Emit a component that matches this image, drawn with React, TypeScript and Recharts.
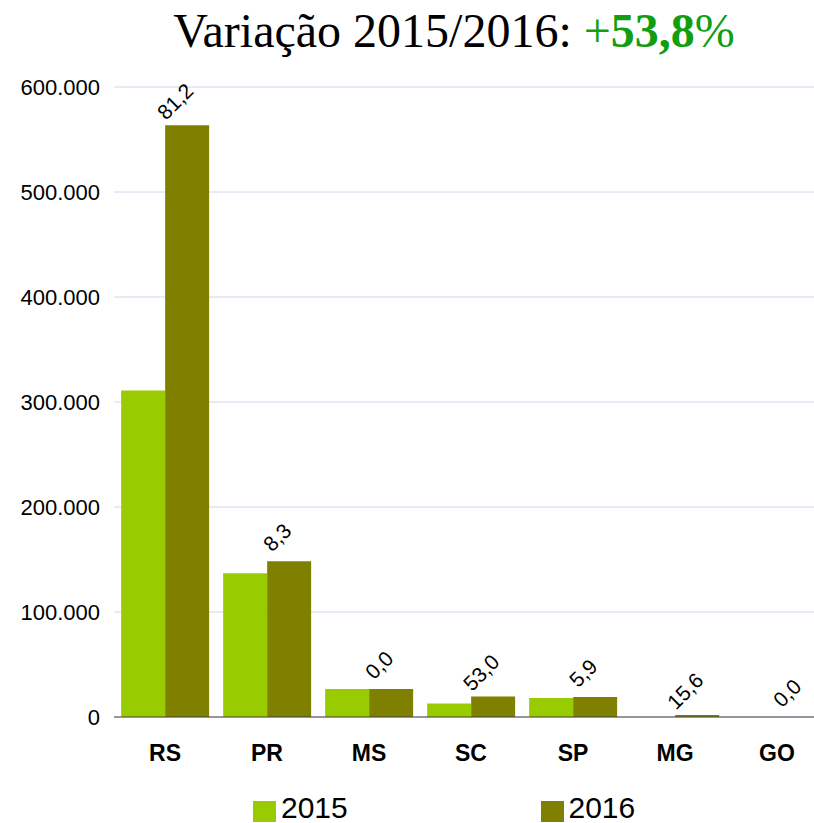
import React from "react";
import {
  BarChart,
  Bar,
  XAxis,
  YAxis,
  CartesianGrid,
  Legend,
  LabelList,
} from "recharts";

const states = ["RS", "PR", "MS", "SC", "SP", "MG", "GO"];
const values2015 = [311000, 137000, 26700, 12800, 18000, 0, 0];
const values2016 = [563500, 148400, 26700, 19600, 19100, 2000, 100];
const growthLabels = ["81,2", "8,3", "0,0", "53,0", "5,9", "15,6", "0,0"];
const yTicks = [0, 100000, 200000, 300000, 400000, 500000, 600000];

const data = states.map((s, i) => ({
  name: s,
  y2015: values2015[i],
  y2016: values2016[i],
  growth: growthLabels[i],
}));

const fmt = (v: number) =>
  v === 0 ? "0" : v.toLocaleString("de-DE", { maximumFractionDigits: 0 });

const GrowthLabel = (props: any) => {
  const { x, y, width, value } = props;
  const cx = x + width / 2 - 12;
  const cy = y - 24;
  return (
    <text
      x={cx}
      y={cy}
      transform={`rotate(-45 ${cx} ${cy})`}
      textAnchor="middle"
      dominantBaseline="central"
      fontSize={21}
      fontFamily="Liberation Sans, Arial, sans-serif"
      fill="#000"
    >
      {value}
    </text>
  );
};

const LegendContent = () => (
  <div
    style={{
      display: "flex",
      alignItems: "center",
      paddingLeft: 253,
      fontFamily: "Liberation Sans, Arial, sans-serif",
      fontSize: 30,
      color: "#000",
      height: 40,
    }}
  >
    {[
      { label: "2015", color: "#99cc00" },
      { label: "2016", color: "#808000" },
    ].map((it) => (
      <div
        key={it.label}
        style={{ display: "flex", alignItems: "center", width: 288 }}
      >
        <span
          style={{
            display: "inline-block",
            width: 23,
            height: 21,
            background: it.color,
            marginRight: 5,
            marginTop: 16,
          }}
        />
        <span style={{ lineHeight: "30px", marginTop: 10 }}>{it.label}</span>
      </div>
    ))}
  </div>
);

export default function App() {
  return (
    <div
      style={{
        position: "absolute",
        left: 0,
        top: 0,
        width: 814,
        height: 823,
        overflow: "hidden",
        background: "#fff",
      }}
    >
      <div
        style={{
          position: "absolute",
          left: 0,
          top: 7,
          width: 908,
          textAlign: "center",
          fontFamily: "Liberation Serif, Times New Roman, serif",
          fontSize: 48,
          lineHeight: "48px",
          color: "#000",
          whiteSpace: "nowrap",
        }}
      >
        Variação 2015/2016:{" "}
        <span style={{ color: "#119e11" }}>
          +<b>53,8</b>%
        </span>
      </div>
      <BarChart
        width={840}
        height={823}
        data={data}
        margin={{ top: 87, right: 12, bottom: 0, left: 0 }}
        barCategoryGap="7%"
        barGap={0}
      >
        <CartesianGrid vertical={false} stroke="#d6d6ee" />
        <XAxis
          dataKey="name"
          height={66}
          tickLine={false}
          tickSize={0}
          tickMargin={28}
          axisLine={{ stroke: "#404040" }}
          tick={{
            fontSize: 23,
            fontWeight: "bold",
            fill: "#000",
            fontFamily: "Liberation Sans, Arial, sans-serif",
          }}
        />
        <YAxis
          width={114}
          domain={[0, 600000]}
          ticks={yTicks}
          tickFormatter={fmt}
          axisLine={false}
          tickLine={false}
          tickSize={0}
          tickMargin={14}
          tick={{
            fontSize: 22,
            fill: "#000",
            fontFamily: "Liberation Sans, Arial, sans-serif",
          }}
        />
        <Legend
          verticalAlign="bottom"
          align="left"
          height={40}
          content={<LegendContent />}
        />
        <Bar dataKey="y2015" fill="#99cc00" isAnimationActive={false} />
        <Bar dataKey="y2016" fill="#808000" isAnimationActive={false}>
          <LabelList dataKey="growth" content={<GrowthLabel />} />
        </Bar>
      </BarChart>
    </div>
  );
}
